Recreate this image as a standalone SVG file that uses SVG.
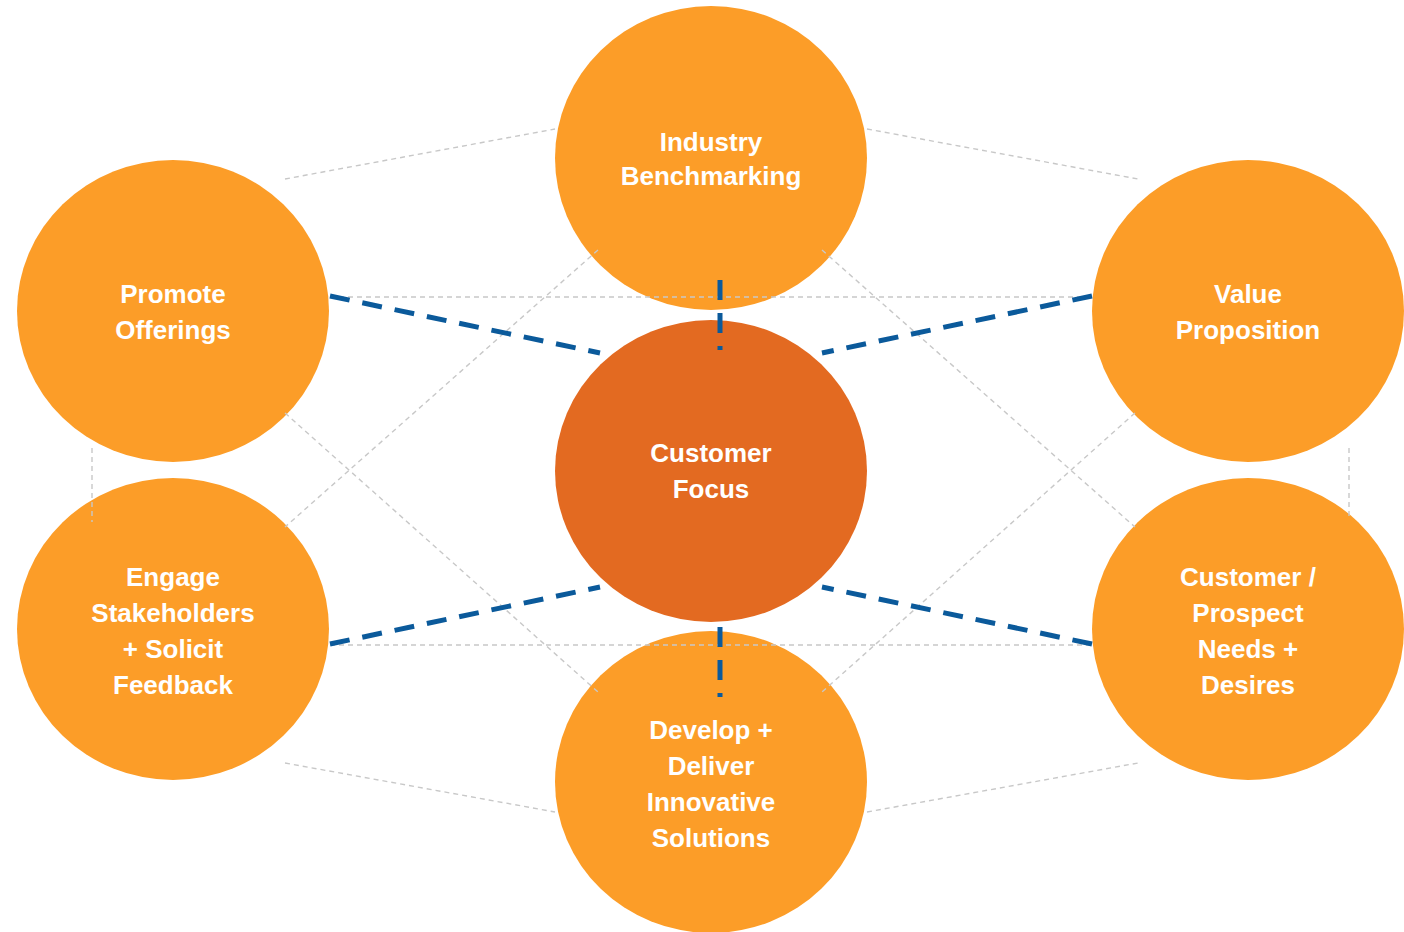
<svg xmlns="http://www.w3.org/2000/svg" width="1404" height="932" viewBox="0 0 1404 932">
<style>
.n{fill:#FC9D28}
.c{fill:#E36A21}
.g{stroke:#C8C8C8;stroke-width:1.4;stroke-dasharray:5 4;fill:none}
.b{stroke:#0B5A9B;stroke-width:5;stroke-dasharray:20 13;fill:none}
text{font-family:"Liberation Sans",Arial,sans-serif;font-weight:bold;font-size:26px;fill:#fff;text-anchor:middle}
</style>
<rect width="1404" height="932" fill="#fff"/>
<g id="n-top"><ellipse class="n" cx="711" cy="158" rx="156" ry="152"/><text x="711" y="151">Industry</text><text x="711" y="185">Benchmarking</text></g>
<g id="n-lt"><ellipse class="n" cx="173" cy="311" rx="156" ry="151"/><text x="173" y="303">Promote</text><text x="173" y="339">Offerings</text></g>
<g id="n-rt"><ellipse class="n" cx="1248" cy="311" rx="156" ry="151"/><text x="1248" y="303">Value</text><text x="1248" y="339">Proposition</text></g>
<g id="n-lb"><ellipse class="n" cx="173" cy="629" rx="156" ry="151"/><text x="173" y="586">Engage</text><text x="173" y="622">Stakeholders</text><text x="173" y="658">+ Solicit</text><text x="173" y="694">Feedback</text></g>
<g id="n-rb"><ellipse class="n" cx="1248" cy="629" rx="156" ry="151"/><text x="1248" y="586">Customer /</text><text x="1248" y="622">Prospect</text><text x="1248" y="658">Needs +</text><text x="1248" y="694">Desires</text></g>
<g id="n-bot"><ellipse class="n" cx="711" cy="782" rx="156" ry="151"/><text x="711" y="739">Develop +</text><text x="711" y="775">Deliver</text><text x="711" y="811">Innovative</text><text x="711" y="847">Solutions</text></g>
<g id="n-center"><ellipse class="c" cx="711" cy="471" rx="156" ry="151"/><text x="711" y="462">Customer</text><text x="711" y="498">Focus</text></g>
<g id="connectors">
<line class="g" x1="285" y1="179" x2="555" y2="129"/>
<line class="g" x1="867" y1="129" x2="1138" y2="179"/>
<line class="g" x1="285" y1="763" x2="555" y2="812"/>
<line class="g" x1="867" y1="812" x2="1138" y2="763"/>
<line class="g" x1="92" y1="448" x2="92" y2="522"/>
<line class="g" x1="1349" y1="448" x2="1349" y2="520"/>
<line class="g" x1="330" y1="297" x2="1092" y2="297"/>
<line class="g" x1="330" y1="645" x2="1092" y2="645"/>
<line class="g" x1="598" y1="250" x2="285" y2="527"/>
<line class="g" x1="285" y1="413" x2="598" y2="692"/>
<line class="g" x1="822" y1="250" x2="1135" y2="527"/>
<line class="g" x1="1135" y1="413" x2="822" y2="692"/>
<line class="b" x1="330" y1="296" x2="600" y2="353"/>
<line class="b" x1="1092" y1="296" x2="822" y2="353"/>
<line class="b" x1="330" y1="644" x2="600" y2="587"/>
<line class="b" x1="1092" y1="644" x2="822" y2="587"/>
<line class="b" x1="720" y1="280" x2="720" y2="350" stroke-dasharray="20 14"/>
<line class="b" x1="720" y1="627" x2="720" y2="697" stroke-dasharray="20 14"/>
</g>
</svg>
